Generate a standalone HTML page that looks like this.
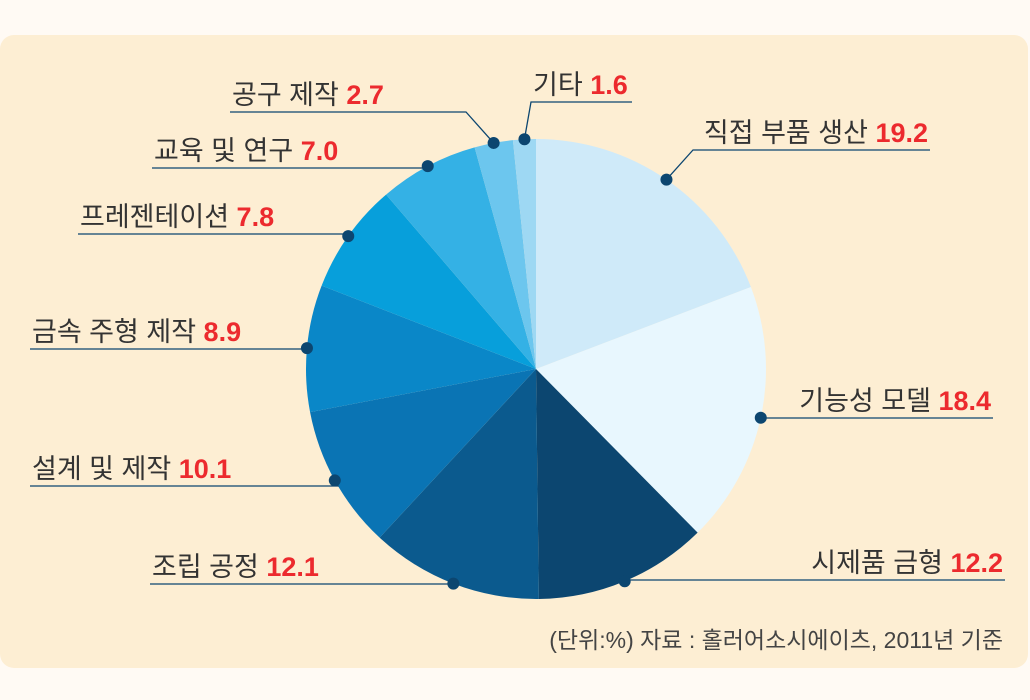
<!DOCTYPE html>
<html><head><meta charset="utf-8"><style>
body{margin:0;background:#fffaf4;width:1030px;height:700px;overflow:hidden}
svg{display:block;font-family:"Liberation Sans","Noto Sans CJK KR",sans-serif}
</style></head><body>
<svg id="chart" width="1030" height="700">
<rect x="0" y="35" width="1028" height="633" rx="14" fill="#fdeed3"/>
<g id="slices"></g><g id="labels"></g>
<text x="1003" y="648" text-anchor="end" font-size="23" fill="#444">(단위:%) 자료 : 홀러어소시에이츠, 2011년 기준</text>
</svg>
<script>
const categories=["직접 부품 생산","기능성 모델","시제품 금형","조립 공정","설계 및 제작","금속 주형 제작","프레젠테이션","교육 및 연구","공구 제작","기타"];
const values=[19.2,18.4,12.2,12.1,10.1,8.9,7.8,7.0,2.7,1.6];
const valueLabels=["19.2","18.4","12.2","12.1","10.1","8.9","7.8","7.0","2.7","1.6"];
const colors=["#cfeaf9","#e8f7fe","#0c4670","#0b5a8e","#0a74b4","#0a87c8","#079fdb","#34b1e5","#6cc6ee","#9ed8f3"];
// label layout: [underline y, line x1, line x2, text anchor side, elbow x]
const layout=[[150,693,930,"end",693],[418,762,993,"end",762],[580,626,1005,"end",626],[584,150,459,"start",459],[486,30,338,"start",338],[349,30,306,"start",306],[234,78,348,"start",348],[168,152,424,"start",424],[112,230,466,"start",466],[102,531,632,"start",531]];
const ns="http://www.w3.org/2000/svg",cx=536,cy=369,R=230;
const total=values.reduce((a,b)=>a+b,0);
const pt=(f,r)=>{const a=f*2*Math.PI;return [cx+r*Math.sin(a),cy-r*Math.cos(a)];};
const gS=document.getElementById('slices'),gL=document.getElementById('labels');
let acc=0;
values.forEach((v,i)=>{
 const f0=acc/total,f1=(acc+v)/total;acc+=v;
 const [x0,y0]=pt(f0,R),[x1,y1]=pt(f1,R);
 const p=document.createElementNS(ns,'path');
 p.setAttribute('d',`M${cx},${cy}L${x0},${y0}A${R},${R} 0 ${f1-f0>0.5?1:0} 1 ${x1},${y1}Z`);
 p.setAttribute('fill',colors[i]);
 
 
 gS.appendChild(p);
 const [dx,dy]=pt((f0+f1)/2,R);
 const L=layout[i];
 const ex=L[4];
 const far=Math.abs(L[1]-ex)>Math.abs(L[2]-ex)?L[1]:L[2];
 const line=document.createElementNS(ns,'polyline');
 line.setAttribute('points',`${dx},${dy} ${ex},${L[0]} ${far},${L[0]}`);
 line.setAttribute('fill','none');line.setAttribute('stroke','#0c4670');line.setAttribute('stroke-width','1.3');
 
 
 gL.appendChild(line);
 const c=document.createElementNS(ns,'circle');
 c.setAttribute('cx',dx);c.setAttribute('cy',dy);c.setAttribute('r',6);c.setAttribute('fill','#0c4670');
 
 
 gL.appendChild(c);
 const t=document.createElementNS(ns,'text');
 t.setAttribute('x',L[3]==="end"?L[2]-2:L[1]+2);t.setAttribute('y',L[0]-8);
 t.setAttribute('text-anchor',L[3]);t.setAttribute('font-size','27');t.setAttribute('fill','#333');
 
 
 t.textContent=categories[i]+' ';
 const s=document.createElementNS(ns,'tspan');
 s.setAttribute('fill','#ec2a2e');s.setAttribute('font-weight','bold');
 
 
 s.textContent=valueLabels[i];
 t.appendChild(s);gL.appendChild(t);
});
</script>
</body></html>
